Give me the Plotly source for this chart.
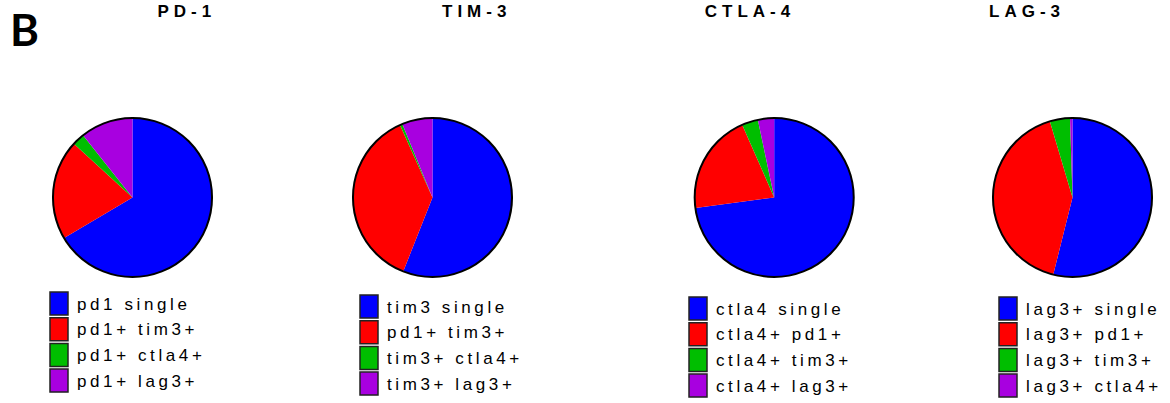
import json
import plotly.graph_objects as go

W, H = 1170, 403

# Panel titles
titles = ["PD-1", "TIM-3", "CTLA-4", "LAG-3"]

# Slice labels per panel (legend order = slice order, clockwise from 12 o'clock)
labels_pd1 = ["pd1 single", "pd1+ tim3+", "pd1+ ctla4+", "pd1+ lag3+"]
labels_tim3 = ["tim3 single", "pd1+ tim3+", "tim3+ ctla4+", "tim3+ lag3+"]
labels_ctla4 = ["ctla4 single", "ctla4+ pd1+", "ctla4+ tim3+", "ctla4+ lag3+"]
labels_lag3 = ["lag3+ single", "lag3+ pd1+", "lag3+ tim3+", "lag3+ ctla4+"]

# Percent of cells in each co-expression group
values_pd1 = [66.5, 20.3, 2.5, 10.7]
values_tim3 = [56.0, 37.3, 0.5, 6.2]
values_ctla4 = [72.9, 20.5, 3.3, 3.3]
values_lag3 = [53.9, 41.5, 4.1, 0.5]

slice_colors = ["#0000FF", "#FF0000", "#00BE00", "#A800E0"]

panels = [
    (titles[0], labels_pd1, values_pd1),
    (titles[1], labels_tim3, values_tim3),
    (titles[2], labels_ctla4, values_ctla4),
    (titles[3], labels_lag3, values_lag3),
]

# Layout geometry in pixels
pie_cx = [132.5, 432.5, 774.2, 1072.5]
pie_cy = 197.5
pie_r = 79.5
title_x = [184, 474, 748, 1024]
title_y = 11.5
legend_x = [50, 360, 689, 999]
legend_top = [292, 295, 297, 297]
row_pitch = 25.7
box_w, box_h = 18, 23


def px(x):
    return x / W


def py(y):
    return 1 - y / H


fig = go.Figure()
annotations = []
ann_spacing = []
ann_anchor = []
shapes = []

for i, (title, labels, values) in enumerate(panels):
    dom_x = [px(pie_cx[i] - pie_r), px(pie_cx[i] + pie_r)]
    dom_y = [py(pie_cy + pie_r), py(pie_cy - pie_r)]
    fig.add_trace(go.Pie(
        labels=labels, values=values, sort=False, direction="clockwise",
        rotation=0, marker=dict(colors=slice_colors, line=dict(width=0)),
        textinfo="none", showlegend=False, domain=dict(x=dom_x, y=dom_y),
        hoverinfo="label+percent",
    ))
    # outer black rim of the pie
    fig.add_trace(go.Pie(
        labels=[title], values=[1], sort=False,
        marker=dict(colors=["rgba(0,0,0,0)"], line=dict(color="black", width=2)),
        textinfo="none", showlegend=False, domain=dict(x=dom_x, y=dom_y),
        hoverinfo="skip",
    ))

    annotations.append(dict(
        text=title, x=px(title_x[i]), y=py(title_y), xref="paper", yref="paper",
        xanchor="center", yanchor="middle", showarrow=False,
        font=dict(family="Arial, Liberation Sans", size=17, color="black", weight="bold"),
    ))
    ann_spacing.append(5)
    ann_anchor.append("center")

    for j, (lab, col) in enumerate(zip(labels, slice_colors)):
        top = legend_top[i] + j * row_pitch
        shapes.append(dict(
            type="rect", xref="paper", yref="paper",
            x0=px(legend_x[i]), x1=px(legend_x[i] + box_w),
            y0=py(top + box_h), y1=py(top),
            fillcolor=col, line=dict(color="#222222", width=1.5),
        ))
        annotations.append(dict(
            text=lab, x=px(legend_x[i] + box_w + 7), y=py(top + box_h / 2 + 0.5),
            xref="paper", yref="paper", xanchor="left", yanchor="middle",
            showarrow=False,
            font=dict(family="Arial, Liberation Sans", size=17, color="black"),
        ))
        ann_spacing.append(3.6)
        ann_anchor.append("left")

annotations.append(dict(
    text="B", x=px(8), y=py(29), xref="paper", yref="paper",
    xanchor="left", yanchor="middle", showarrow=False,
    font=dict(family="Lato, Open Sans", size=44, color="black", weight="bold"),
))
ann_spacing.append(0)
ann_anchor.append("left")

fig.update_layout(
    width=W, height=H, margin=dict(l=0, r=0, t=0, b=0),
    paper_bgcolor="white", plot_bgcolor="white",
    annotations=annotations, shapes=shapes,
)

# Widen the tracking of the annotation text while keeping its anchor point
post_js = """
var gd = document.getElementById('{plot_id}');
var spacing = %s;
var anchor = %s;
gd.querySelectorAll('g.annotation').forEach(function(g) {
  var k = parseInt(g.getAttribute('data-index'));
  var t = g.querySelector('text.annotation-text');
  if (!t || !spacing[k]) return;
  var b0 = t.getBBox();
  t.style.letterSpacing = spacing[k] + 'px';
  var b1 = t.getBBox();
  var dx = anchor[k] === 'left' ? (b0.x - b1.x)
           : ((b0.x + b0.width / 2) - (b1.x + (b1.width - spacing[k]) / 2));
  var tr = t.getAttribute('transform') || '';
  t.setAttribute('transform', tr + ' translate(' + dx + ',0)');
});
""" % (json.dumps(ann_spacing), json.dumps(ann_anchor))

fig.write_html("out.html", post_script=post_js)
